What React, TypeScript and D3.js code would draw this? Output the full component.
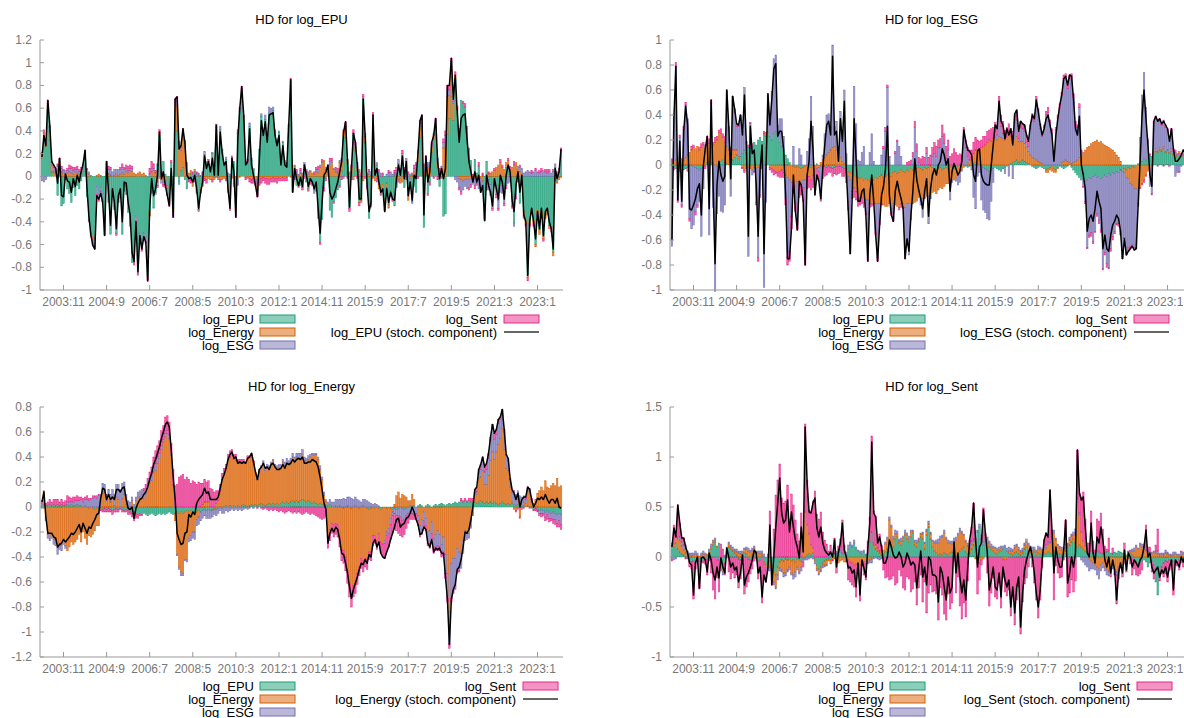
import React from 'react';
import * as d3 from 'd3';

// x axis: one bar per month, a label every 22 bars
const N_OBS = 266;
const TICK_FIRST = 11;
const TICK_EVERY = 22;
const tickLabels = ['2003:11', '2004:9', '2006:7', '2008:5', '2010:3', '2012:1', '2014:11', '2015:9', '2017:7', '2019:5', '2021:3', '2023:1'];

const shockNames = ['log_EPU', 'log_Energy', 'log_ESG', 'log_Sent'];
const shockColors = ['#1b9e77', '#d95f02', '#7570b3', '#e7298a'];

// all values below are in hundredths

// ---- HD for log_EPU
const epuStoch = [
  17,36,27,67,45,13,10,7,-6,16, -17,-18,2,-4,-5,-14,-2,-9,1,-5, 4,11,23,-11,-36,-52,-61,-64,-17,-20,
  -15,-23,-52,13,-14,-43,-11,-23,-46,-17, -11,-40,-5,-6,-23,-34,-67,-75,-40,-84, -52,-64,-53,-58,-92,-28,-2,-17,-11,1,
  39,-2,4,-8,-17,-26,7,-36,68,70, 24,27,42,29,1,-2,-1,-5,1,-11, -28,-14,-5,18,7,13,4,16,1,45,
  1,39,21,10,13,-11,-28,16,4,-36, 33,60,79,54,10,13,42,10,1,-8, -18,16,49,36,48,30,54,55,56,36,
  27,36,10,27,10,8,46,85,-14,7, -2,-8,-1,-9,
  10,1,-9,-2,-5,-11,-5,-28,-50,-23, 1,4,10,-14,-20,-17,-11,-5,4,13, 39,48,13,-27,7,38,30,10,-20,-20,
  68,36,-8,-31,-23,54,1,7,-5,-14, -11,-31,-11,-23,-14,-20,-21,-2,10,1, 18,-2,13,-17,-5,-21,1,-2,21,49,
  54,-34,18,-5,4,30,36,51,13,-2, 7,-2,7,80,80,104,68,89,57,30, 51,54,55,33,13,4,-5,4,-5,1,
  -14,-8,-39,1,-8,-14,-26,-2,-11,-20, 1,-5,-20,1,10,4,-20,-31,-8,4, -14,1,-34,-40,-87,-40,-28,-40,-55,-31,
  -46,-28,-52,-31,-28,-40,-46,-64,7,-2, 4,24,
];
const epuByEnergy = [
  3,5,2,4,8,6,4,3,5,3, 4,3,2,3,4,3,2,4,3,2, 3,2,4,3,2,1,-2,-1,1,2, 1,0,-2,1,2,1,0,1,2,1,
  2,3,2,4,3,5,4,3,2,3, 4,2,3,1,-1,-3,4,5,3,-5, 2,-3,-5,-4,-3,-2,-4,-3,5,22, 25,18,28,26,8,3,3,-4,2,-3,
  1,-2,-3,-2,-3,-2,-3,-3,-2,-1, -2,-3,-3,-2,-2,-3,-4,-2,-1,-2, -2,-1,0,1,-1,-2,-2,-3,-2,-3, -2,-3,-2,-1,-2,-2,-3,-2,-1,-2,
  -2,-1,-2,-1,-2,-1,0,-1,-2,1, 2,1,3,2,4,3,2,4,3,2, 4,3,8,12,14,6,3,10,12,6, 4,3,12,8,5,10,3,2,5,-3,
  2,3,4,-2,-4,5,3,2,1,-2, -3,-2,-4,-5,-5,-6,-4,-3,-2,-1, 1,2,-3,-4,-5,2,3,-4,-2,1, 4,6,8,10,3,4,6,8,9,5,
  3,2,4,2,5,25,30,33,20,25, 15,4,1,-2,-3,-4,-3,-2,-3,-2, -3,-2,-1,-3,-2,-4,-3,-2,2,3, 4,5,8,10,12,8,6,4,5,3,
  8,10,12,6,4,2,-2,-3,-2,-3, -2,-3,-2,-3,-4,-3,-2,-3,-2,-3, -2,-3,-2,-1,-2,-1,
];
const epuByESG = [
  -4,-5,-3,2,3,2,4,3,4,2, 3,2,3,2,3,4,3,2,3,2, 3,2,2,3,2,-3,-4,-6,-7,-4, -3,-5,-3,3,4,5,4,5,4,5,
  4,5,4,3,2,2,3,-3,-4,-5, -4,-5,-4,-3,-2,2,3,2,-2,-3, -2,-3,-2,-3,-4,-2,-3,-3,2,4, 3,2,4,3,2,-2,-3,2,-2,2,
  2,1,2,3,2,3,2,1,2,3, 2,3,2,1,2,3,2,4,-5,-4, -6,2,3,2,1,2,3,2,1,-2, -3,-2,2,3,4,5,6,5,3,2,
  2,1,2,1,2,1,2,3,-2,-1, 2,1,2,1,2,1,2,1,-2,-3, 2,3,2,1,-2,2,1,3,2,1, 2,1,2,3,-2,2,1,2,-3,2,
  3,4,2,1,2,3,-2,2,3,4, 3,2,4,3,-2,-3,2,3,4,2, 2,3,4,5,6,4,3,2,-3,-2, 3,4,2,3,4,5,6,4,3,2,
  2,3,4,3,2,5,6,7,5,6, 2,-3,-5,-8,-10,-8,-6,-9,-7,-5, -4,-6,-5,-8,-10,-7,-6,-8,-9,-7, -6,-5,-8,-7,-6,-9,-10,-8,-6,-5,
  -4,-3,-2,3,4,5,3,4,5,4, 3,4,5,4,3,4,5,4,3,4, 3,4,3,2,4,6,
];
const epuBySent = [
  2,3,2,3,2,1,2,1,2,1, 2,1,-2,2,3,2,3,2,3,2, 2,3,2,1,-2,-3,-2,-3,-2,-2, -3,-2,-2,2,3,2,-2,-3,-2,-3,
  2,3,2,3,4,3,2,-3,-3,-2, -2,-3,-2,-2,-3,5,6,4,2,-2, 3,2,-2,-3,-2,-3,2,-2,3,4, 3,2,2,3,2,-2,-3,2,-3,2,
  -2,-3,2,-2,-3,2,1,-2,2,3, 2,-2,3,2,-2,-3,-2,2,-3,-2, 3,2,3,2,-2,2,-3,-3,-4,-3, -4,-3,-4,-3,-4,-5,-4,-3,-4,-3,
  -4,-3,-2,-3,-2,-3,2,3,-3,-2, 2,-2,2,-2,-2,2,-2,-3,-2,2, 2,3,-2,2,-3,-2,2,3,2,-2, 2,3,-2,-3,2,2,-2,-3,2,3,
  2,-2,-3,2,2,-2,-3,2,-2,2, 2,-3,2,-2,3,-2,-3,2,-3,-2, 2,3,-2,2,3,2,-3,2,-2,2, 3,2,-2,2,3,2,3,-2,-3,2,
  -2,2,-3,2,-2,3,4,3,4,3, 2,3,2,-2,-3,2,3,2,-2,-3, 2,-3,-2,3,-2,2,-3,-2,2,-3, -2,2,-3,-2,3,2,-2,-3,2,3,
  -2,3,-2,-3,2,-2,-3,-2,-3,-2, 2,-3,2,-2,2,3,-2,2,3,2, -3,2,-2,2,3,2,
];

// ---- HD for log_ESG
const esgStoch = [
  -60,37,79,-28,19,-29,27,47,32,-35, -36,-32,-27,-19,-15,-40,-1,13,23,-35, 52,-16,-79,-16,3,-8,-13,-9,60,31,
  -11,55,45,33,32,40,24,56,16,-57, 31,9,12,-16,-57,-4,16,-71,-4,57, 32,53,77,81,23,27,27,13,-24,-75,
  -75,-51,-8,-37,-52,-13,-16,-29,-80,-8, 3,35,13,-24,-8,-13,-27,-3,16,32, 35,24,87,24,27,3,37,19,51,-5,
  -36,-71,-27,37,5,-29,-29,-21,-19,-40, -77,-24,-8,-29,-56,-77,-48,-24,-17,-3, 31,-24,-40,-45,-21,-13,-21,-27,-35,-75,
  -59,-69,-40,-21,5, -12,-20,
  -27,-35,-21,-11,-41,-19,-8,-3,-8,0, 3,13,8,0,5,-21,-5,1,-3,-8, -5,3,28,19,12,11,8,-8,-13,11,
  13,-8,-13,-15,-16,-16,0,16,32,29, 51,35,32,21,29,24,29,16,41,44, 27,35,33,32,24,19,32,40,37,52,
  43,32,24,29,37,40,32,24,3,24, 37,48,56,69,71,64,72,71,53,29, 24,39,0,-8,-19,-53,-43,-40,-45,-35,
  -21,-29,-35,-67,-56,-67,-69,-56,-48,-45, -40,-43,-53,-75,-59,-72,-69,-67,-65,-68, -67,-32,3,40,60,37,16,-8,-17,35,
  39,35,37,33,35,32,29,19,29,13, 3,3, 5,8,12,10,6,4,2,
];
const esgByEPU = [
  1,-2,-3,-4,-5,-6,-4,-3,-2,-1, 0,-1,-2,-3,-4,-3,-2,-1,2,3, 2,1,0,-1,2,3,4,2,1,0, 2,4,6,8,5,7,9,12,10,14,
  13,15,18,16,20,22,19,24,21,26, 23,20,25,27,22,18,15,12,8,5, 2,0,-1,-2,-1,-2,-3,-2,-1,0, -1,-2,-1,0,1,0,-1,-2,-1,-2,
  -1,-2,-3,-2,-1,0,-1,-2,-3,-4, -5,-6,-7,-8,-9,-10,-11,-10,-12,-11, -12,-13,-11,-12,-10,-11,-9,-8,-10,-9, -8,-7,-9,-6,-5,-7,-6,-4,-5,-6,
  -4,-5,-3,-4,-5,-3,-2,-3,-4,-2, -3,-2,-1,-2,-3,-4,-3,-2,-4,-3, -2,-3,-1,-2,-3,-2,-1,0,1,0, -1,-2,-1,0,1,2,1,0,-1,-2,
  -3,-4,-5,-4,-3,-2,-3,-4,-5,-3, -2,-1,0,1,2,3,4,2,3,4, 3,2,1,0,-1,-2,-3,-2,-1,-2, -3,-4,-3,-2,-1,-3,-4,-2,-1,-2,
  -3,-2,-1,0,-2,-4,-6,-8,-10,-12, -11,-13,-12,-10,-11,-9,-8,-10,-9,-11, -10,-8,-9,-7,-8,-6,-7,-5,-6,-4, -5,-3,-4,-2,-3,-1,-2,0,1,2,
  3,5,4,6,8,7,9,11,10,12, 11,13,10,12,9,11,8,10,7,9, 6,8,5,7,4,6,
];
const esgByEnergy = [
  2,3,4,2,3,5,4,6,8,10, 12,14,13,15,12,14,16,13,15,14, 12,15,18,20,24,22,18,16,14,12, 10,8,6,4,2,0,-2,-4,-3,-2,
  -3,-4,-2,-3,-2,-1,0,1,2,1, -2,-3,-4,-5,-6,-5,-4,-6,-8,-10, -12,-14,-13,-15,-12,-14,-12,-10,-11,-9, -8,-10,-7,-5,-3,-2,2,4,6,8,
  10,12,14,15,12,10,6,3,1,-2, -4,-6,-8,-10,-12,-14,-15,-16,-18,-17, -16,-18,-20,-19,-21,-20,-22,-23,-22,-24, -25,-24,-26,-25,-27,-26,-28,-27,-26,-28,
  -27,-26,-28,-27,-25,-26,-24,-25,-23,-24, -22,-23,-21,-20,-18,-19,-17,-16,-15,-14, -13,-12,-11,-10,-9,-8,-7,-5,-4,-2, 0,2,4,6,8,10,11,12,14,15,
  16,18,20,19,21,22,20,23,22,21, 20,22,24,22,20,18,19,17,16,15, 14,12,10,8,6,5,4,3,2,1, 0,-2,-3,-2,-4,-3,-2,-1,0,2,
  3,4,3,2,1,2,3,4,6,8, 10,12,14,15,17,18,19,20,18,19, 17,16,15,14,13,12,10,8,6,3, 0,-3,-6,-9,-12,-15,-17,-19,-20,-18,
  -15,-12,-8,-5,-2,0,1,2,1,2, 1,2,1,0,1,2,1,0,1,2, 1,0,1,2,1,0,
];
const esgBySent = [
  2,-2,3,-3,2,-2,3,2,-3,-2, 3,2,-3,-2,2,3,2,-2,3,4, 3,2,4,3,2,4,3,5,4,3, 2,4,3,2,1,2,-1,-2,1,2,
  1,2,-1,-2,-3,-2,-1,2,3,2, -2,-3,-4,-2,-3,-5,-6,-4,-5,-7, -8,-10,-9,-7,-8,-10,-9,-11,-12,-10, -9,-8,-10,-7,-6,-8,-7,-9,-8,-6,
  -5,-4,-6,-5,-7,-6,-5,-7,-6,-8, -7,-5,-6,-8,-7,-9,-6,-5,-4,-3, -2,-3,-2,-1,-2,-3,-2,-1,2,3, 2,1,-2,-1,2,1,-2,-3,-2,-1,
  2,3,4,3,5,6,4,5,7,6, 5,6,8,7,9,8,6,7,9,8, 10,8,7,9,11,10,8,9,7,8, 6,7,8,6,9,10,8,7,6,8,
  7,9,8,10,9,7,8,6,9,10, 8,7,9,6,5,7,8,6,5,4, 5,6,4,3,5,4,3,2,4,3, 2,3,4,2,3,1,2,3,4,2,
  3,2,4,3,2,3,4,2,3,1, -1,-2,-1,-2,-3,-2,-1,-2,-3,-2, -1,-2,-3,-1,-2,-3,-2,-1,-2,-3, -2,-1,-2,-3,-2,-1,-2,-1,-2,-1,
  -1,-2,-1,2,1,-1,2,1,-1,2, 1,-1,2,1,-1,2,1,2,1,-1, 2,1,-1,2,1,1,
];

// ---- HD for log_Energy
const energyStoch = [
  4,12,-8,-21,-21,-21,-24,-25,-32,-30, -29,-26,-28,-26,-24,-21,-22,-20,-17,-14, -20,-13,-17,-21,-16,-17,-13,-10,-6,-5,
  7,15,14,6,10,6,8,6,14,14, 12,15,16,6,-1,-2,0,-9,-1,3, 6,7,10,12,16,22,27,34,38,43,
  48,55,60,66,68,64,46,24,6,-21, -26,-30,-29,-21,-20,-6,-8,-4,-6,3, 6,8,10,15,11,12,6,6,6,6,
  8,15,22,26,31,38,42,44,39,40, 35,36,35,36,35,39,40,43,36,28, 22,30,32,35,31,32,30,34,35,32,
  30,30,31,34,31,35,34,35,38,36, 38,39,38,40,
  35,35,36,36,38,37,36,32,24,14, 3,-2,-29,-21,-17,-20,-16,-18,-26,-37, -38,-45,-53,-64,-73,-66,-61,-56,-50,-45,
  -46,-42,-45,-38,-40,-29,-26,-32,-28,-37, -40,-41,-36,-32,-26,-21,-16,-10,-9,-16, -14,-13,-9,-8,-5,0,-4,-10,-14,-22,
  -21,-16,-18,-29,-32,-26,-36,-33,-34,-33, -37,-37,-56,-74,-110,-74,-66,-62,-50,-48, -42,-32,-20,-21,-18,-10,0,14,16,30,
  34,40,32,35,43,56,66,59,62,70, 72,78,62,42,39,23,14,11,6,11, 0,6,8,8,16,14,6,0,3,7,
  6,8,6,10,6,3,6,6,3,7, 0,-1,
];
const energyByEPU = [
  1,2,1,1,2,1,2,1,2,1, 2,1,1,2,1,2,1,1,2,1, 1,0,1,0,-1,0,-1,-2,-1,-2, -1,-2,-1,-2,-1,-2,-3,-2,-1,-2,
  -1,-2,-3,-2,-3,-4,-5,-4,-5,-6, -5,-6,-5,-6,-7,-6,-5,-6,-7,-6, -5,-6,-5,-6,-5,-4,-5,-6,-5,-4, -5,-4,-5,-4,-3,-4,-3,-4,-5,-4,
  -3,-4,-3,-2,-3,-2,-3,-2,-1,-2, -1,0,-1,0,1,0,1,0,1,0, 1,0,1,2,1,0,1,2,1,2, 1,2,3,2,1,2,3,2,3,2,
  3,2,3,4,3,4,3,4,5,4, 5,4,5,6,5,4,5,4,3,4, 3,2,3,2,1,2,1,2,1,0, 1,0,1,0,-1,0,1,0,-1,0,
  1,0,-1,0,1,0,-1,-2,-1,0, -1,0,-1,-2,-1,0,-1,0,-1,-2, -1,-2,-1,0,-1,-2,-1,0,1,0, 1,0,1,2,1,0,1,2,1,0,
  1,2,1,2,3,2,1,2,3,2, 3,4,3,4,5,4,5,4,5,4, 5,4,3,4,5,4,3,4,3,4, 3,4,3,2,3,4,3,2,3,2,
  3,2,1,2,1,2,1,0,1,0, -1,-2,-1,-2,-3,-2,-3,-4,-3,-4, -5,-4,-5,-6,-5,-6,
];
const energyByESG = [
  2,-1,-2,-3,-2,-3,-4,-5,-6,-5, -4,-3,-2,2,3,2,3,4,3,4, 5,4,5,6,5,6,7,8,7,9, 10,8,6,5,4,6,7,9,10,12,
  14,12,10,8,5,4,3,2,3,4, 5,4,6,5,4,3,5,4,6,5, 4,3,2,3,2,3,2,1,2,-1, -2,-3,-2,-1,-2,-3,-4,-5,-6,-5,
  -6,-7,-6,-5,-6,-7,-6,-5,-4,-5, -4,-3,-4,-5,-3,-4,-3,-2,-3,-2, -3,-2,-3,-2,-1,-2,-1,0,-1,0, 1,2,1,2,3,2,3,2,1,2,
  3,2,3,2,3,4,3,2,3,4, 3,4,5,4,3,2,3,2,1,2, 1,2,3,2,3,2,3,4,3,4, 5,6,5,6,7,6,7,8,7,6,
  7,6,5,4,5,6,5,4,3,2, 3,2,1,0,-1,-2,-3,-4,-5,-3, -4,-5,-6,-8,-10,-8,-6,-5,-4,-5, -6,-5,-4,-6,-8,-7,-6,-8,-10,-9,
  -8,-10,-12,-10,-8,-12,-15,-20,-25,-28, -26,-22,-18,-15,-12,-10,-8,-6,-4,-2, -1,0,2,4,6,8,10,12,14,16, 18,16,14,17,15,12,14,10,8,6,
  8,10,9,7,8,6,5,3,2,1, 2,1,0,-1,-2,-3,-2,-4,-3,-5, -4,-6,-5,-7,-6,-8,
];
const energyBySent = [
  2,1,2,3,4,3,4,5,4,3, 4,3,4,5,4,3,4,3,4,3, 2,3,2,3,2,1,2,1,2,1, -1,-2,-3,-2,-3,-2,-3,-2,-3,-2,
  -1,-2,-1,-2,-3,-2,-3,-2,-4,-3, -2,-1,2,3,4,5,6,8,10,9, 10,12,11,13,12,10,8,12,15,18, 24,25,26,22,24,22,19,21,20,18,
  20,19,17,18,16,17,15,14,12,10, 8,6,5,4,3,4,5,3,4,5, 3,2,3,2,1,2,1,0,1,0, -1,0,-1,-2,-1,-2,-3,-2,-3,-2,
  -3,-4,-3,-4,-5,-4,-3,-4,-5,-4, -5,-4,-5,-6,-5,-4,-5,-6,-5,-6, -7,-8,-9,-10,-9,-8,-10,-9,-8,-10, -9,-10,-8,-9,-10,-11,-9,-10,-8,-9,
  -8,-9,-7,-8,-9,-7,-8,-6,-7,-8, -6,-7,-8,-9,-10,-12,-13,-11,-12,-14, -13,-12,-14,-15,-13,-12,-10,-8,-6,-5, -4,-5,-4,-3,-4,-5,-4,-3,-4,-5,
  -4,-3,-4,-3,-2,-3,-4,-3,-4,-3, -2,-3,-2,-1,2,1,2,1,2,3, 2,3,4,3,4,3,4,5,4,3, 4,5,4,3,2,3,2,1,2,1,
  2,1,-1,-2,-1,-2,-1,2,1,-1, 1,-1,-2,-1,-2,-3,-2,-3,-4,-3, -2,-3,-4,-3,-5,-4,
];

// ---- HD for log_Sent
const sentStoch = [
  10,29,20,52,34,19,19,10,4,-6, -8,-38,-6,0,-31,-1,0,-3,-15,4, -3,-16,-23,-10,-21,-1,-10,-16,9,0,
  -10,-6,-13,-10,-25,-16,2,-28,-20,-16, -10,-3,7,4,-16,-10,-40,-18,-25,-11, 32,-28,0,30,54,79,44,34,37,57,
  25,45,30,17,10,-1,30,5,130,74, 45,44,54,59,29,20,30,14,7,4, 2,5,0,17,-10,5,14,34,7,0,
  -11,-10,-16,-13,-30,-6,-38,-3,-11,-20, 9,34,115,44,40,14,20,10,-6,-6, 0,17,10,2,-1,0,5,0,-10,-6,
  4,-1,-8,-5,-8,-31, -12,6,-20,
  -10,-28,0,-3,-18,-18,-20,-45,-10,-16, -30,-43,-20,-36,-30,15,-16,4,-20,-36, -23,-43,-10,17,30,54,17,-10,10,14,
  47,24,4,-33,-23,-10,-30,-33,-16,-40, -10,-23,-30,-23,-50,-30,-56,-30,-20,-70, -36,-13,-3,4,10,0,-16,-36,-50,-33,
  -3,17,24,20,67,27,-16,10,-3,-10, -10,7,37,-26,-16,0,-10,4,107,64, 57,60,30,4,0,34,4,-6,20,14,
  30,17,-3,-10,0,-16,-3,-13,-43,-16, -6,-16,7,-13,4,0,-10,-3,-6,-10, -3,0,10,27,0,4,-10,-16,-13,-10,
  -20,-13,-16,-10,-20,-10,-3,-33,-3,-6, -10,0, -5,2,-8,3,-4,
];
const sentByEPU = [
  12,10,14,8,5,3,2,4,-2,-4, -5,-4,-6,-3,-2,-5,-4,-3,2,4, 8,12,15,10,14,-8,-12,-6,5,10, 8,6,4,2,-2,-3,2,4,3,-2,
  -3,2,3,-2,-4,-3,2,-5,-8,-6, -4,-8,-15,-18,-10,-5,-3,-4,-2,-3, -2,-4,-3,-5,-2,-3,-4,-2,-1,2, 3,2,4,-2,-8,-12,-10,-6,-4,-3,
  -2,-3,2,3,4,2,5,3,4,2, 8,12,10,14,8,6,4,3,5,2, 4,15,25,12,8,6,4,2,3,5, 8,12,15,10,18,20,14,12,16,22,
  18,15,20,24,12,10,15,20,18,8, 22,30,18,10,6,4,2,3,2,4, 3,2,4,5,3,2,4,6,8,10, 5,3,4,8,12,15,25,30,18,12,
  20,14,10,8,6,4,3,5,6,8, 10,6,4,3,2,4,5,3,2,4, 8,10,6,4,3,5,2,4,3,2, 4,3,5,4,3,6,5,4,3,2,
  4,6,10,12,15,18,14,10,12,10, 8,6,5,4,6,5,4,6,5,4, 3,4,5,6,4,3,5,4,6,5, 4,3,2,3,4,2,-3,-5,-8,-6,
  -4,-3,-5,-10,-6,-4,-8,-25,-38,-20, -10,-6,-4,-5,-3,-6,-4,-8,-5,-3, -6,-4,-10,-5,-3,-2,
];
const sentByEnergy = [
  2,3,6,10,12,8,5,4,3,2, 1,2,3,2,1,2,3,2,1,2, 2,3,2,1,-1,-2,-3,-1,2,3, 2,1,2,3,4,3,2,4,5,6,
  5,4,6,5,4,3,2,-2,-3,-5, -6,-8,-10,-12,-8,-6,-10,-12,-14,-10, -8,-12,-15,-10,-8,-12,-6,15,45,30, 20,10,5,-2,-4,-5,-3,-2,-4,-5,
  -2,-4,-3,-2,-5,-6,-4,-3,-5,-4, -3,-5,-6,-8,-7,-10,-8,-6,-5,-7, -5,-3,-2,2,4,3,2,5,4,8, 10,25,15,8,5,3,2,4,3,2,
  4,3,5,2,3,4,2,3,5,6, 4,3,5,6,8,10,12,15,18,20, 15,12,10,8,12,15,18,20,16,12, 10,8,6,5,4,-2,-4,-6,-3,-2,
  2,3,4,2,3,5,4,2,3,-2, -3,-2,2,3,4,5,6,4,3,2, 4,5,6,4,3,2,3,4,5,3, 4,6,8,10,15,18,12,8,6,5,
  4,3,2,5,6,4,10,45,30,15, 8,5,3,-2,-4,-6,-8,-10,-12,-8, -6,-10,-12,-14,-10,-8,-12,-15,-10,-6, -8,-5,-3,-2,2,4,6,10,8,12,
  10,8,6,4,2,3,5,4,3,2, 3,2,4,3,2,1,2,3,2,1, 2,3,2,1,2,1,
];
const sentByESG = [
  -2,-3,-2,2,3,4,5,4,3,2, 3,2,3,2,-2,2,3,2,-2,2, 3,2,2,-3,-2,-4,-3,2,3,2, 2,3,2,3,2,3,2,1,2,3,
  2,3,2,1,2,3,2,3,-2,-3, -4,-6,-3,-2,-5,-3,-2,-4,-3,-2, -3,-2,-4,-5,-3,-2,-4,-3,-2,-3, -2,-1,-2,-3,-2,-1,-2,-3,-2,-1,
  2,3,2,1,2,3,2,1,2,3, 4,3,2,3,2,1,2,3,2,1, -2,-3,-4,-2,-1,-2,-3,-2,-1,2, 2,3,2,3,4,3,2,3,2,3,
  2,3,2,1,2,3,2,1,2,1, 2,3,2,1,2,3,4,3,2,3, 2,3,2,3,4,3,2,3,2,1, 2,3,4,3,2,3,2,3,4,3,
  2,3,2,3,2,1,2,3,2,3, 2,3,4,3,2,3,2,3,2,3, 2,3,2,3,4,3,2,3,2,3, 2,3,2,1,2,3,2,1,2,3,
  2,3,2,3,2,3,4,3,2,-3, -5,-8,-10,-12,-8,-6,-5,-8,-10,-6, -5,-4,-6,-5,-3,-4,-5,-3,-2,-4, -3,-2,-1,2,1,2,3,2,1,2,
  3,2,1,2,3,2,1,2,3,2, 1,2,3,2,1,2,3,2,1,2, 3,2,1,2,1,2,
];

const SVG_W = 1184;
const SVG_H = 718;
const PW = 523;
const PH = 250;
const FONT = '"Liberation Sans", Arial, Helvetica, sans-serif';

type PanelProps = {
  variable: string;
  left: number;
  top: number;
  yMin: number;
  yMax: number;
  yStep: number;
  stoch: number[];
  parts: (number[] | null)[]; // own shock is null: it is the remainder of the decomposition
  keyRight: number;
};

function Panel({ variable, left, top, yMin, yMax, yStep, stoch, parts, keyRight }: PanelProps) {
  const x = d3.scaleLinear().domain([-1, N_OBS]).range([left, left + PW]);
  const y = d3.scaleLinear().domain([yMin, yMax]).range([top + PH, top]);
  const step = PW / (N_OBS + 1);
  const bw = step * 0.78;

  const comps = parts.map((p) =>
    p ? p : stoch.map((v, i) => v - parts.reduce((s, q) => (q ? s + (q[i] ?? 0) : s), 0))
  );
  const rows = d3.range(N_OBS).map((i) => {
    const r: Record<string, number> = {};
    comps.forEach((c, k) => (r['s' + k] = (c[i] ?? 0) / 100));
    return r;
  });
  const layers = d3.stack<Record<string, number>>()
    .keys(['s0', 's1', 's2', 's3'])
    .offset(d3.stackOffsetDiverging)(rows);

  const line = d3.line<number>()
    .x((_, i) => x(i))
    .y((v) => y(v / 100));

  const nT = Math.round((yMax - yMin) / yStep);
  const yTicks = d3.range(nT + 1).map((k) => +(yMin + k * yStep).toFixed(2));
  const xTicks = tickLabels.map((lab, k) => ({ lab, i: TICK_FIRST + k * TICK_EVERY }));
  const bottom = top + PH;

  const rowY = [bottom + 29, bottom + 42, bottom + 55];
  const leftEnd = left + 214;
  const rightEnd = left + keyRight;

  return (
    <g>
      <text x={left + PW / 2} y={top - 16} textAnchor="middle" fontSize={13} fill="#000">
        HD for {variable}
      </text>
      {layers.map((layer, k) => (
        <g key={k} fill={shockColors[k]} fillOpacity={0.7} stroke={shockColors[k]} strokeWidth={0.5}>
          {layer.map((d, i) => {
            const y0 = y(d[0]);
            const y1 = y(d[1]);
            const h = Math.abs(y0 - y1);
            if (h < 0.01) return null;
            return <rect key={i} x={x(i) - bw / 2} y={Math.min(y0, y1)} width={bw} height={h} />;
          })}
        </g>
      ))}
      <path d={line(stoch) ?? ''} fill="none" stroke="#000" strokeWidth={1.5} strokeLinejoin="round" />
      <line x1={left} x2={left} y1={top} y2={bottom} stroke="#999" />
      <line x1={left} x2={left + PW} y1={bottom} y2={bottom} stroke="#999" />
      {yTicks.map((t) => (
        <g key={t}>
          <line x1={left} x2={left + 4} y1={y(t)} y2={y(t)} stroke="#999" />
          <text x={left - 8} y={y(t) + 4} textAnchor="end" fontSize={12} fill="#777">
            {String(t)}
          </text>
        </g>
      ))}
      {xTicks.map((t) => (
        <g key={t.lab}>
          <line x1={x(t.i)} x2={x(t.i)} y1={bottom} y2={bottom - 5} stroke="#999" />
          <text x={Math.min(x(t.i), SVG_W - 19)} y={bottom + 16} textAnchor="middle" fontSize={12} fill="#777">
            {t.lab}
          </text>
        </g>
      ))}
      {[0, 1, 2].map((k) => (
        <g key={k}>
          <text x={leftEnd} y={rowY[k] + 4.5} textAnchor="end" fontSize={13} fill="#000">
            {shockNames[k]}
          </text>
          <rect x={leftEnd + 6} y={rowY[k] - 4} width={35} height={8}
            fill={shockColors[k]} fillOpacity={0.5} stroke={shockColors[k]} strokeWidth={1} />
        </g>
      ))}
      <text x={rightEnd} y={rowY[0] + 4.5} textAnchor="end" fontSize={13} fill="#000">
        {shockNames[3]}
      </text>
      <rect x={rightEnd + 7} y={rowY[0] - 4} width={35} height={8}
        fill={shockColors[3]} fillOpacity={0.5} stroke={shockColors[3]} strokeWidth={1} />
      <text x={rightEnd} y={rowY[1] + 4.5} textAnchor="end" fontSize={13} fill="#000">
        {variable} (stoch. component)
      </text>
      <line x1={rightEnd + 7} x2={rightEnd + 42} y1={rowY[1]} y2={rowY[1]} stroke="#333" strokeWidth={1.5} />
    </g>
  );
}

export default function App() {
  return (
    <svg width={SVG_W} height={SVG_H} style={{ position: 'absolute', left: 0, top: 0, background: '#fff' }}
      fontFamily={FONT}>
      <Panel variable="log_EPU" left={40} top={40} yMin={-1} yMax={1.2} yStep={0.2}
        stoch={epuStoch} parts={[null, epuByEnergy, epuByESG, epuBySent]} keyRight={457} />
      <Panel variable="log_ESG" left={670} top={40} yMin={-1} yMax={1} yStep={0.2}
        stoch={esgStoch} parts={[esgByEPU, esgByEnergy, null, esgBySent]} keyRight={457} />
      <Panel variable="log_Energy" left={40} top={407} yMin={-1.2} yMax={0.8} yStep={0.2}
        stoch={energyStoch} parts={[energyByEPU, null, energyByESG, energyBySent]} keyRight={476} />
      <Panel variable="log_Sent" left={670} top={407} yMin={-1} yMax={1.5} yStep={0.5}
        stoch={sentStoch} parts={[sentByEPU, sentByEnergy, sentByESG, null]} keyRight={460} />
    </svg>
  );
}
